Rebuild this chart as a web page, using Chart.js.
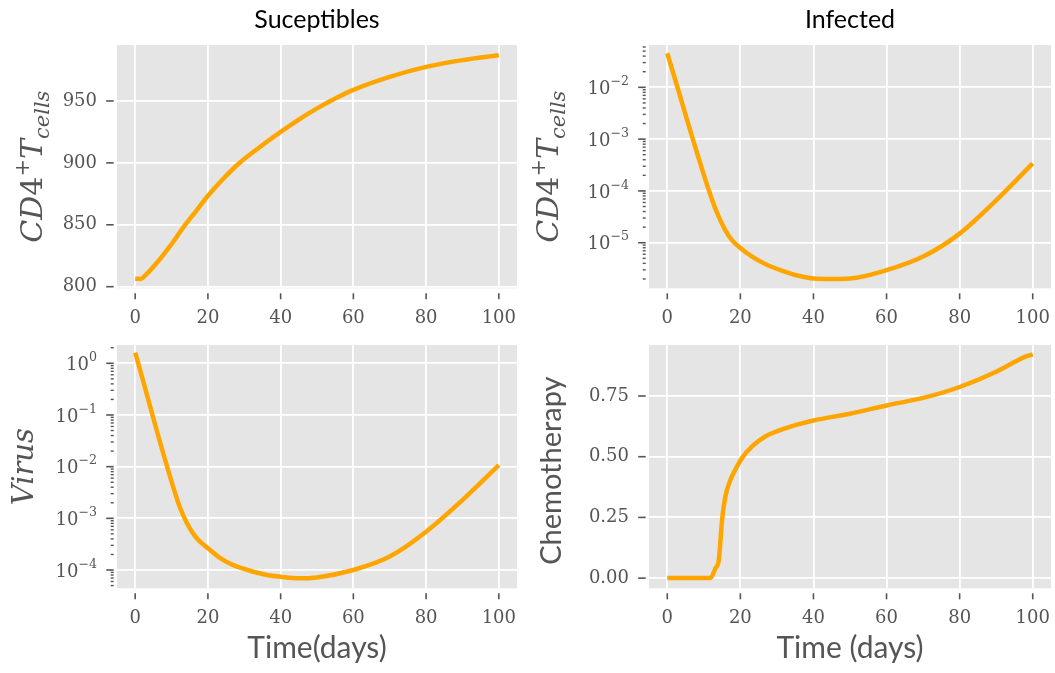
<!DOCTYPE html>
<html>
<head>
<meta charset="utf-8">
<script src="https://cdn.jsdelivr.net/npm/chart.js@4.4.1/dist/chart.umd.min.js"></script>
<style>
  body { margin: 0; background: #fff; }
  #wrap { position: relative; width: 1055px; height: 673px; }
  canvas { position: absolute; }
</style>
</head>
<body>
<div id="wrap">
  <canvas id="sus" width="527" height="335" style="left:0;top:0"></canvas>
  <canvas id="inf" width="528" height="335" style="left:527px;top:0"></canvas>
  <canvas id="vir" width="527" height="338" style="left:0;top:335px"></canvas>
  <canvas id="chemo" width="528" height="338" style="left:527px;top:335px"></canvas>
</div>
<script>
const timeTicks = [0, 20, 40, 60, 80, 100]

const susDays = [0, 1.4, 3.6, 6.8, 10, 13.2, 16.8, 20, 24.1, 28.6, 34.1, 40, 45, 50, 55, 60, 70, 80, 90, 100]
const susCells = [806.4, 806.2, 811.6, 822.3, 834.4, 847.8, 861.3, 873.4, 886.8, 899.7, 912.4, 925, 935, 944, 952, 959, 969.5, 977.5, 983, 987]
const susTicks = [800, 850, 900, 950]

const infDays = [0, 12.3, 14.1, 15.9, 17.7, 20, 23.2, 26.8, 31.4, 35.9, 40, 45, 50, 60, 70, 80, 90, 100]
const infCells = [4.54e-2, 6.6e-5, 3.16e-5, 1.74e-5, 1.12e-5, 7.9e-6, 5.4e-6, 3.9e-6, 2.9e-6, 2.3e-6, 2.04e-6, 2.0e-6, 2.04e-6, 2.95e-6, 5.4e-6, 1.5e-5, 6.6e-5, 3.4e-4]

const virDays = [0, 12, 13.6, 15, 16.3, 17.7, 20, 23.2, 26.8, 31.4, 35.9, 40, 45, 50, 60, 70, 80, 90, 100]
const virLoad = [1.607, 1.86e-3, 1.0e-3, 6.46e-4, 4.68e-4, 3.63e-4, 2.63e-4, 1.74e-4, 1.26e-4, 9.8e-5, 8.1e-5, 7.4e-5, 6.9e-5, 7.2e-5, 1.0e-4, 1.82e-4, 5.5e-4, 2.26e-3, 1.07e-2]

const chemoDays = [0, 11.8, 13.2, 14.1, 15.0, 15.9, 17.3, 18.6, 20.45, 23.2, 26.8, 32.3, 40, 50, 60, 70, 80, 90, 95, 98, 100]
const chemoDose = [0, 0, 0.041, 0.075, 0.24, 0.336, 0.405, 0.446, 0.494, 0.542, 0.583, 0.617, 0.649, 0.677, 0.711, 0.742, 0.787, 0.85, 0.89, 0.912, 0.921]
const chemoTicks = [0, 0.25, 0.5, 0.75]

const GREY = '#555555'
const SERIF = '"DejaVu Serif"'
const SANS = 'Lato'
const SUP = { '-': '\u2212', '0': '0', '1': '1', '2': '2', '3': '3', '4': '4', '5': '5', '6': '6' }

function isDecade(v) {
  const e = Math.log10(v)
  return Math.abs(e - Math.round(e)) < 1e-6
}

function logTicks(scale) {
  const out = []
  const lo = Math.floor(Math.log10(scale.min))
  const hi = Math.ceil(Math.log10(scale.max))
  for (let e = lo; e <= hi; e++) {
    for (let k = 1; k < 10; k++) {
      const v = k * Math.pow(10, e)
      if (v >= scale.min && v <= scale.max) out.push({ value: v })
    }
  }
  scale.ticks = out
}

// no extra room for labels that stick out past the plot
function noPad(s) {
  s.paddingLeft = 0
  s.paddingRight = 0
  s.paddingTop = 0
  s.paddingBottom = 0
}

// draws text made of pieces, some raised or lowered
function drawRich(ctx, parts, x, y, size, family, align, raise) {
  let total = 0
  const items = parts.map(p => {
    const s = p.k ? size * 0.7 : size
    const font = (p.it ? 'italic ' : '') + s + 'px ' + family
    ctx.font = font
    const w = ctx.measureText(p.t).width
    total += w
    return { p, font, w }
  })
  let cx = align === 'center' ? x - total / 2 : align === 'right' ? x - total : x
  ctx.textAlign = 'left'
  ctx.textBaseline = 'alphabetic'
  items.forEach(({ p, font, w }) => {
    ctx.font = font
    const dy = p.k === 'sup' ? -raise * size : p.k === 'sub' ? 0.24 * size : 0
    ctx.fillText(p.t, cx, y + dy)
    cx += w
  })
}

const deco = {
  id: 'deco',
  beforeDraw(chart) {
    const a = chart.chartArea
    const ctx = chart.ctx
    ctx.save()
    ctx.fillStyle = '#E5E5E5'
    ctx.fillRect(a.left, a.top, a.right - a.left, a.bottom - a.top)
    ctx.restore()
  },
  afterDraw(chart, args, o) {
    const a = chart.chartArea
    const ctx = chart.ctx
    const xs = chart.scales.x
    const ys = chart.scales.y
    ctx.save()
    ctx.strokeStyle = GREY
    ctx.lineWidth = 1.6
    xs.ticks.forEach((t, i) => {
      const px = xs.getPixelForTick(i)
      ctx.beginPath()
      ctx.moveTo(px, a.bottom + 5)
      ctx.lineTo(px, a.bottom + 11)
      ctx.stroke()
    })
    ys.ticks.forEach((t, i) => {
      const py = ys.getPixelForTick(i)
      const major = !o.log || isDecade(t.value)
      const len = major ? 7.5 : 3
      ctx.lineWidth = major ? 1.6 : 1.4
      ctx.beginPath()
      ctx.moveTo(a.left - 3.3 - len, py)
      ctx.lineTo(a.left - 3.3, py)
      ctx.stroke()
      if (o.log && major) {
        const e = Math.round(Math.log10(t.value))
        const sup = String(e).split('').map(c => SUP[c]).join('')
        ctx.fillStyle = GREY
        drawRich(ctx, [{ t: '10' }, { t: sup, k: 'sup' }], a.left - 20, py + 6.6, 18, SERIF, 'right', 0.5)
      }
    })
    const cx = (a.left + a.right) / 2
    const cy = (a.top + a.bottom) / 2
    if (o.title) {
      ctx.fillStyle = '#000'
      ctx.font = '25px ' + SANS
      ctx.textAlign = 'center'
      ctx.textBaseline = 'alphabetic'
      ctx.fillText(o.title, cx, a.top - 17)
    }
    if (o.xlabel) {
      ctx.fillStyle = GREY
      ctx.font = '30px ' + SANS
      ctx.textAlign = 'center'
      ctx.textBaseline = 'alphabetic'
      ctx.fillText(o.xlabel, cx, a.bottom + 70)
    }
    ctx.translate(a.left - o.ylabelGap, cy + (o.ylabelShift || 0))
    ctx.rotate(-Math.PI / 2)
    ctx.fillStyle = GREY
    drawRich(ctx, o.ylabel, 0, 0, o.ylabelSize, o.ylabelFont, 'center', 0.42)
    ctx.restore()
  }
}

const cd4Label = [
  { t: 'CD', it: true }, { t: '4' }, { t: '+', k: 'sup' },
  { t: 'T', it: true }, { t: 'cells', it: true, k: 'sub' }
]

function makeChart(id, cfg) {
  const canvas = document.getElementById(id)
  const W = canvas.width
  const H = canvas.height
  const a = cfg.area
  const yScale = {
    type: cfg.log ? 'logarithmic' : 'linear',
    min: cfg.yMin,
    max: cfg.yMax,
    afterBuildTicks: cfg.log ? logTicks : s => { s.ticks = cfg.yTicks.map(v => ({ value: v })) },
    afterFit: s => { s.width = a.left; noPad(s) },
    border: { display: false },
    grid: {
      drawTicks: false,
      lineWidth: 1.8,
      color: ctx => (!cfg.log || isDecade(ctx.tick.value)) ? '#ffffff' : 'rgba(0,0,0,0)'
    },
    ticks: {
      display: !cfg.log,
      autoSkip: false,
      padding: 20,
      color: GREY,
      font: { family: 'DejaVu Serif', size: 18 },
      callback: cfg.yFormat || (v => v)
    }
  }
  return new Chart(canvas.getContext('2d'), {
    type: 'line',
    data: {
      datasets: [{
        data: cfg.x.map((d, i) => ({ x: d, y: cfg.y[i] })),
        borderColor: '#FFA500',
        borderWidth: 4.5,
        pointRadius: 0,
        fill: false,
        cubicInterpolationMode: 'monotone',
        borderJoinStyle: 'round'
      }]
    },
    options: {
      responsive: false,
      animation: false,
      events: [],
      layout: { padding: { left: 0, top: a.top, right: W - a.right, bottom: 0 } },
      plugins: {
        legend: { display: false },
        tooltip: { enabled: false },
        deco: cfg.deco
      },
      scales: {
        x: {
          type: 'linear',
          min: -5,
          max: 105,
          afterBuildTicks: s => { s.ticks = timeTicks.map(v => ({ value: v })) },
          afterFit: s => { s.height = H - a.bottom; noPad(s) },
          border: { display: false },
          grid: { drawTicks: false, lineWidth: 1.8, color: '#ffffff' },
          ticks: {
            autoSkip: false,
            maxRotation: 0,
            padding: 19,
            color: GREY,
            font: { family: 'DejaVu Serif', size: 18 }
          }
        },
        y: yScale
      }
    },
    plugins: [deco]
  })
}

makeChart('sus', {
  x: susDays, y: susCells, yMin: 798.7, yMax: 995.2, yTicks: susTicks,
  area: { left: 117, right: 517, top: 45, bottom: 288.3 },
  deco: { title: 'Suceptibles', ylabel: cd4Label, ylabelGap: 75, ylabelSize: 30, ylabelFont: SERIF }
})

makeChart('inf', {
  x: infDays, y: infCells, log: true, yMin: 1.32e-6, yMax: 0.0656,
  area: { left: 122, right: 524, top: 45, bottom: 288.3 },
  deco: { log: true, title: 'Infected', ylabel: cd4Label, ylabelGap: 91, ylabelSize: 30, ylabelFont: SERIF }
})

makeChart('vir', {
  x: virDays, y: virLoad, log: true, yMin: 4.43e-5, yMax: 2.26,
  area: { left: 117, right: 517, top: 10, bottom: 253.3 },
  deco: { log: true, xlabel: 'Time(days)', ylabel: [{ t: 'Virus', it: true }], ylabelGap: 84, ylabelSize: 29, ylabelFont: SERIF }
})

makeChart('chemo', {
  x: chemoDays, y: chemoDose, yMin: -0.042, yMax: 0.96, yTicks: chemoTicks,
  yFormat: v => v.toFixed(2),
  area: { left: 122, right: 524, top: 10, bottom: 253.3 },
  deco: { xlabel: 'Time (days)', ylabel: [{ t: 'Chemotherapy' }], ylabelGap: 88, ylabelShift: 4, ylabelSize: 29, ylabelFont: SANS }
})
</script>
</body>
</html>
